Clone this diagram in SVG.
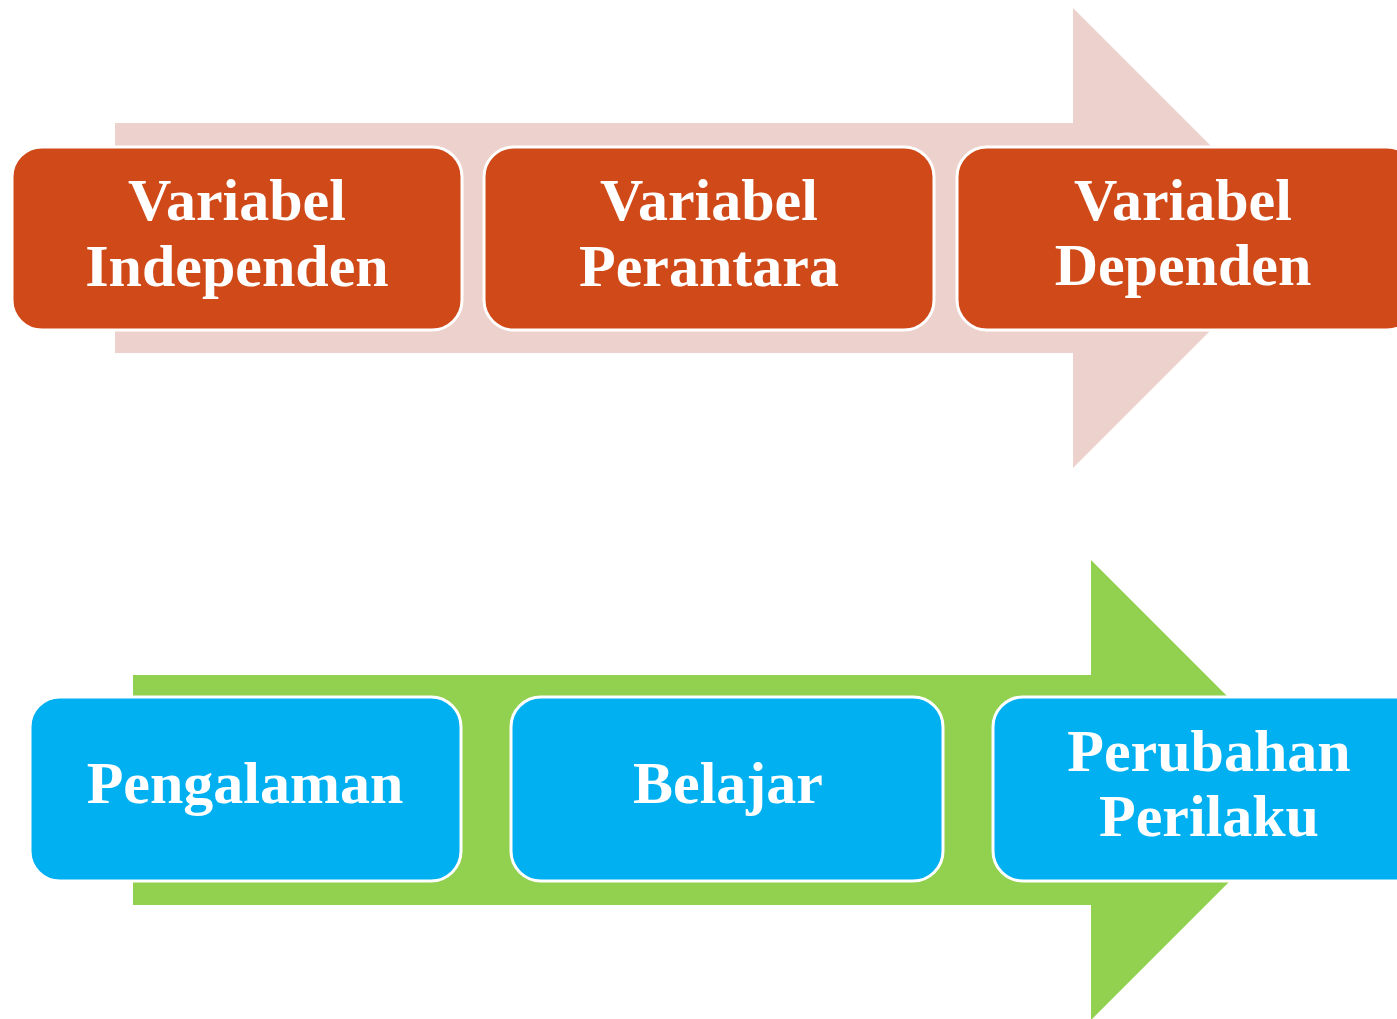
<svg xmlns="http://www.w3.org/2000/svg" width="1397" height="1019" viewBox="0 0 1397 1019">
  <style>
    .lbl { font-family: "Liberation Serif", "Times New Roman", serif; font-weight: bold; font-size: 60px; fill: #FFFFFF; text-anchor: middle; }
    .org { fill: #D04A19; stroke: #FFFFFF; stroke-width: 3; }
    .blu { fill: #00B0F0; stroke: #FFFFFF; stroke-width: 3; }
  </style>
  <rect x="0" y="0" width="1397" height="1019" fill="#FFFFFF"/>
  <g id="connectors">
    <polygon id="arrow-top" points="115,123 1073,123 1073,8 1303,238 1073,468 1073,353 115,353" fill="#EDD1CC"/>
    <polygon id="arrow-bottom" points="133,675 1091,675 1091,560 1321,790 1091,1020 1091,905 133,905" fill="#92D050"/>
  </g>
  <g id="node-variabel-independen">
    <rect class="org" x="12" y="147" width="450" height="183" rx="30" ry="30"/>
    <text class="lbl" x="237" y="220">Variabel</text>
    <text class="lbl" x="237" y="286">Independen</text>
  </g>
  <g id="node-variabel-perantara">
    <rect class="org" x="484" y="147" width="450" height="183" rx="30" ry="30"/>
    <text class="lbl" x="709" y="220">Variabel</text>
    <text class="lbl" x="709" y="286">Perantara</text>
  </g>
  <g id="node-variabel-dependen">
    <rect class="org" x="957" y="147" width="460" height="183" rx="30" ry="30"/>
    <text class="lbl" x="1183" y="220">Variabel</text>
    <text class="lbl" x="1183" y="285">Dependen</text>
  </g>
  <g id="node-pengalaman">
    <rect class="blu" x="30" y="697" width="431" height="184" rx="30" ry="30"/>
    <text class="lbl" x="245" y="803">Pengalaman</text>
  </g>
  <g id="node-belajar">
    <rect class="blu" x="511" y="697" width="432" height="184" rx="30" ry="30"/>
    <text class="lbl" x="728" y="803">Belajar</text>
  </g>
  <g id="node-perubahan-perilaku">
    <rect class="blu" x="993" y="697" width="440" height="184" rx="30" ry="30"/>
    <text class="lbl" x="1209" y="771">Perubahan</text>
    <text class="lbl" x="1209" y="836">Perilaku</text>
  </g>
</svg>
